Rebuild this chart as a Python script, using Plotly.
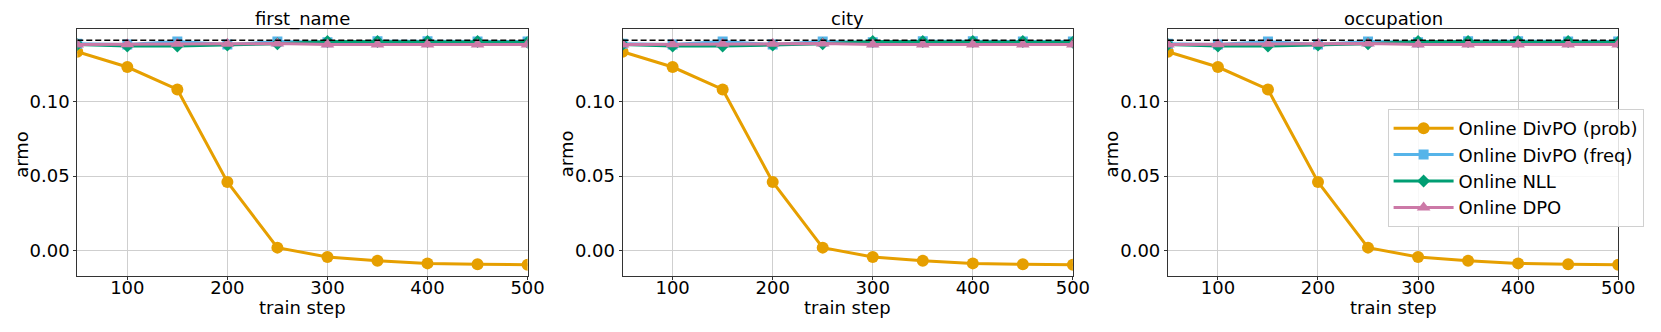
import plotly.graph_objects as go

# data (the three panels look identical)
panels = ["first_name", "city", "occupation"]
steps = [50, 100, 150, 200, 250, 300, 350, 400, 450, 500]

divpo_prob = [0.1337, 0.1234, 0.1083, 0.0460, 0.0018, -0.0045, -0.0070, -0.0088, -0.0094, -0.0097]
divpo_freq = [0.1390, 0.1385, 0.1405, 0.1385, 0.1405, 0.1400, 0.1408, 0.1408, 0.1405, 0.1405]
online_nll = [0.1385, 0.1375, 0.1375, 0.1382, 0.1390, 0.1405, 0.1405, 0.1405, 0.1405, 0.1400]
online_dpo = [0.1385, 0.1388, 0.1390, 0.1390, 0.1392, 0.1385, 0.1385, 0.1385, 0.1385, 0.1385]
reference_level = 0.1415

series = [
    ("Online DivPO (prob)", divpo_prob, "#E69F00", "circle", 12),
    ("Online DivPO (freq)", divpo_freq, "#56B4E9", "square", 10),
    ("Online NLL", online_nll, "#009E73", "diamond", 10),
    ("Online DPO", online_dpo, "#CC79A7", "triangle-up", 12),
]

# page body has an 8px margin, so the figure is a bit smaller than the window
W, H = 1645, 316
OFF = 8


def xp(p):
    return (p - OFF) / W


def yp(p):
    return 1 - (p - OFF) / H


lefts = [78, 629, 1180]
pw = 455
top, bottom = 29, 276

FONT = "DejaVu Sans"
fig = go.Figure()
annotations = []

for i, name in enumerate(panels):
    sfx = "" if i == 0 else str(i + 1)
    xa, ya = "x" + sfx, "y" + sfx
    for label, vals, col, sym, sz in series:
        fig.add_trace(go.Scatter(
            x=steps, y=vals, mode="lines+markers", name=label,
            line=dict(color=col, width=3),
            marker=dict(symbol=sym, size=sz, color=col),
            xaxis=xa, yaxis=ya, showlegend=(i == 2)))
    fig.add_trace(go.Scatter(
        x=[steps[0], steps[-1]], y=[reference_level, reference_level], mode="lines",
        line=dict(color="black", width=1.5, dash="6px,3px"),
        xaxis=xa, yaxis=ya, showlegend=False, hoverinfo="skip"))

    x0, x1 = xp(lefts[i]), xp(lefts[i] + pw)
    axis_common = dict(showline=True, mirror=True, linecolor="#333333", linewidth=1,
                       showgrid=True, gridcolor="#cfcfcf", gridwidth=1, zeroline=False,
                       ticks="outside", ticklen=3, tickcolor="#333333",
                       tickfont=dict(family=FONT, size=18, color="black"))
    fig.layout["xaxis" + sfx] = dict(axis_common, domain=[x0, x1], range=[50, 500],
                                     tickvals=[100, 200, 300, 400, 500], anchor=ya,
                                     ticklabelstandoff=-8)
    fig.layout["yaxis" + sfx] = dict(axis_common, domain=[yp(bottom), yp(top)],
                                     range=[-0.0173, 0.149],
                                     tickvals=[0.0, 0.05, 0.10], tickformat=".2f", anchor=xa)

    cx = xp(lefts[i] + pw / 2)
    annotations.append(dict(text=name, x=cx, y=yp(19), xref="paper", yref="paper",
                            xanchor="center", yanchor="middle", showarrow=False,
                            font=dict(family=FONT, size=18, color="black")))
    annotations.append(dict(text="train step", x=cx, y=yp(307), xref="paper", yref="paper",
                            xanchor="center", yanchor="middle", showarrow=False,
                            font=dict(family=FONT, size=18, color="black")))
    annotations.append(dict(text="armo", x=xp(lefts[i] - 57), y=yp(154), xref="paper",
                            yref="paper", xanchor="center", yanchor="middle",
                            textangle=-90, showarrow=False,
                            font=dict(family=FONT, size=18, color="black")))

fig.update_layout(
    width=W, height=H,
    margin=dict(l=0, r=0, t=0, b=0),
    paper_bgcolor="white", plot_bgcolor="white",
    annotations=annotations,
    legend=dict(x=xp(1402), y=yp(109), xanchor="left", yanchor="top",
                itemwidth=60,
                bgcolor="rgba(255,255,255,0.85)", bordercolor="#d0d0d0", borderwidth=1,
                font=dict(family=FONT, size=18, color="black")),
)

fig.write_html("out.html")
